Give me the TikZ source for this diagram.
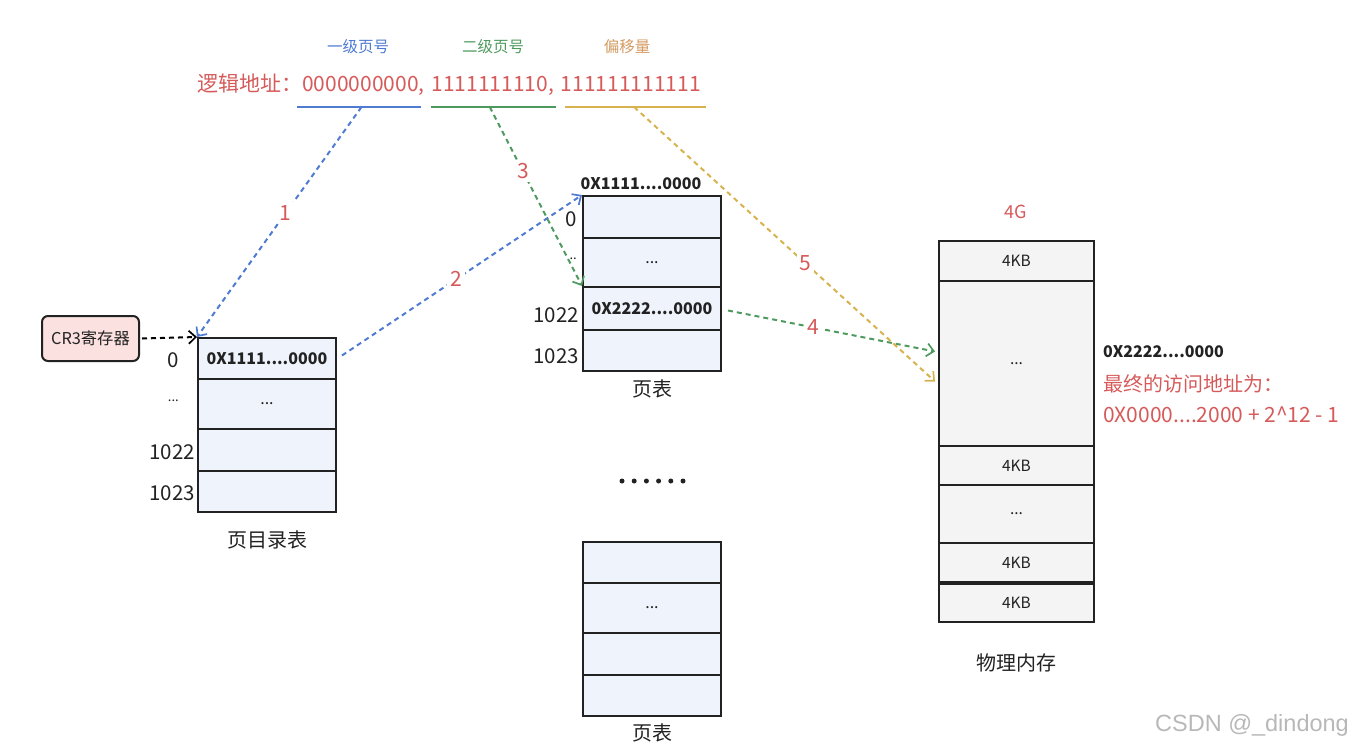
\documentclass[tikz,border=0pt]{standalone}
\usepackage{fontspec}
\setmainfont{Noto Sans CJK SC}
\newfontfamily\wmfont{Liberation Sans}
\usetikzlibrary{arrows.meta,calc}
\definecolor{cred}{HTML}{D65A5A}
\definecolor{cblue}{HTML}{4F7BD2}
\definecolor{cgreen}{HTML}{4E9A5E}
\definecolor{cyel}{HTML}{D8B24E}
\definecolor{corange}{HTML}{D39A62}
\definecolor{cellblue}{HTML}{EEF3FC}
\definecolor{cellgray}{HTML}{F4F4F4}
\definecolor{cpink}{HTML}{FCE1E1}
\definecolor{ink}{HTML}{222222}
\begin{document}
\begin{tikzpicture}[x=1pt,y=-1pt,
  cell/.style={draw=ink,line width=2pt,fill=cellblue,minimum width=138pt,inner sep=0pt,font=\fontsize{16}{18}\selectfont,text=ink},
  mcell/.style={draw=ink,line width=2pt,fill=cellgray,minimum width=155pt,inner sep=0pt,font=\fontsize{15.5}{17}\selectfont,text=ink},
  rowlab/.style={font=\fontsize{20.5}{22}\selectfont,text=ink,anchor=east,inner sep=1pt},
  caption/.style={font=\fontsize{20}{22}\selectfont,text=ink},
  flow/.style={dash pattern=on 5pt off 4pt,line width=2pt,-{Straight Barb[length=7pt,width=13pt,line width=1.7pt]}},
  num/.style={font=\fontsize{21}{23}\selectfont,text=cred,fill=white,inner sep=3pt},
  ulin/.style={line width=2.2pt}
]
\useasboundingbox (0,0) rectangle (1360,748);

% logical address
\node[font=\fontsize{15.5}{17}\selectfont,text=cblue] (t1) at (358,47) {一级页号};
\node[font=\fontsize{15.5}{17}\selectfont,text=cgreen] (t2) at (493,47) {二级页号};
\node[font=\fontsize{15.5}{17}\selectfont,text=corange] (t3) at (627,47) {偏移量};
\node[font=\fontsize{21}{23}\selectfont,text=cred,anchor=west,inner sep=0pt] (addr) at (197,85) {逻辑地址：0000000000,\hspace{7pt}1111111110,\hspace{7pt}111111111111};
\draw[ulin,cblue] (297,107) -- (421,107) coordinate[pos=0.52] (u1);
\draw[ulin,cgreen] (431,107) -- (556,107) coordinate[pos=0.47] (u2);
\draw[ulin,cyel] (565,107) -- (706,107) coordinate[pos=0.49] (u3);

% CR3
\node[draw=ink,line width=2pt,fill=cpink,rounded corners=6pt,minimum width=97pt,minimum height=45pt,font=\fontsize{16.3}{18}\selectfont,text=ink] (cr3) at (90.5,338.5) {CR3寄存器};

% page directory
\node[cell,minimum height=41pt,font=\fontsize{16}{18}\bfseries] (d0) at (267,358.5) {0X1111....0000};
\node[cell,minimum height=50pt] (d1) at (267,404) {...};
\node[cell,minimum height=42pt] (d2) at (267,450) {};
\node[cell,minimum height=41pt] (d3) at (267,491.5) {};
\node[rowlab] (ld0) at (180,360) {0};
\node[rowlab,font=\fontsize{13}{15}\selectfont] (ld1) at (180,401) {...};
\node[rowlab] (ld2) at (196,452) {1022};
\node[rowlab] (ld3) at (196,493) {1023};
\node[caption] (capd) at (267,540) {页目录表};

% page table 1
\node[font=\fontsize{16}{18}\bfseries,text=ink] (ptaddr) at (641,184) {0X1111....0000};
\node[cell,minimum height=42pt] (p0) at (652,217) {};
\node[cell,minimum height=49pt] (p1) at (652,262.5) {...};
\node[cell,minimum height=43pt,font=\fontsize{16}{18}\bfseries] (p2) at (652,308.5) {0X2222....0000};
\node[cell,minimum height=41pt] (p3) at (652,350.5) {};
\node[rowlab] (lp0) at (578,219) {0};
\node[rowlab,font=\fontsize{13}{15}\selectfont] (lp1) at (578,259) {..};
\node[rowlab] (lp2) at (580,315) {1022};
\node[rowlab] (lp3) at (580,356) {1023};
\node[caption] (capp) at (652,389) {页表};

% dots
\foreach \i in {0,...,5} \fill[ink] (622+\i*12.2,481) circle (2.5pt);

% page table 2
\node[cell,minimum height=41pt] (q0) at (652,562.5) {};
\node[cell,minimum height=50pt] (q1) at (652,608) {...};
\node[cell,minimum height=42pt] (q2) at (652,654) {};
\node[cell,minimum height=41pt] (q3) at (652,695.5) {};
\node[caption] (capq) at (652,733) {页表};

% physical memory
\node[font=\fontsize{18}{20}\selectfont,text=cred] (g4) at (1016,212) {4G};
\node[mcell,minimum height=40pt] (m0) at (1016.5,261) {4KB};
\node[mcell,minimum height=165pt] (m1) at (1016.5,363.5) {...};
\node[mcell,minimum height=39pt] (m2) at (1016.5,465.5) {4KB};
\node[mcell,minimum height=58pt] (m3) at (1016.5,514) {...};
\node[mcell,minimum height=39pt] (m4) at (1016.5,562.5) {4KB};
\node[mcell,minimum height=38pt,line width=2.4pt] (m5) at (1016.5,603) {4KB};
\node[caption] (capm) at (1016,663) {物理内存};
\node[anchor=west,font=\fontsize{16}{18}\bfseries,text=ink,inner sep=0pt] (maddr) at (1103,352) {0X2222....0000};
\node[anchor=west,font=\fontsize{20}{22}\selectfont,text=cred,inner sep=0pt] (fin1) at (1103,384) {最终的访问地址为：};
\node[anchor=west,font=\fontsize{21}{23}\selectfont,text=cred,inner sep=0pt] (fin2) at (1103,415) {0X0000....2000 + 2\^{}12 - 1};

% watermark
\node[font=\wmfont\fontsize{23.5}{25}\selectfont,text=black!28] (wm) at (1252,725) {CSDN @\_dindong};

% connectors
\coordinate (m1a) at ($(m1.west)+(-3,-12)$);
\coordinate (m1b) at ($(m1.west)+(-3,18)$);
\draw[flow,black] (cr3.east) ++(2,0) -- (d0.north west);
\draw[flow,cblue] (u1) -- node[num,pos=0.46] {1} (d0.north west);
\draw[flow,cblue] ($(d0.east)+(5,-3)$) -- node[num,pos=0.475] {2} (p0.north west);
\draw[flow,cgreen] (u2) -- node[num,pos=0.36] {3} (p2.north west);
\draw[flow,cgreen] ($(p2.east)+(6,2)$) -- node[num,pos=0.41] {4} (m1a);
\draw[flow,cyel] (u3) -- node[num,pos=0.57] {5} (m1b);
\end{tikzpicture}
\end{document}
